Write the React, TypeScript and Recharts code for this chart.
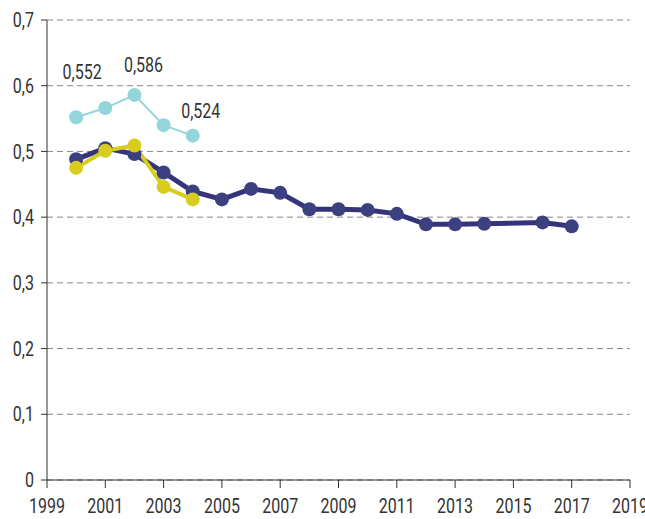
import { CartesianGrid, LabelList, Line, LineChart, XAxis, YAxis } from "recharts";

const YEARS = [2000, 2001, 2002, 2003, 2004, 2005, 2006, 2007, 2008, 2009, 2010, 2011, 2012, 2013, 2014, 2015, 2016, 2017];
const NAVY = [0.488, 0.505, 0.496, 0.468, 0.439, 0.427, 0.443, 0.437, 0.412, 0.412, 0.411, 0.405, 0.389, 0.389, 0.390, null, 0.392, 0.386];
const YELLOW = [0.475, 0.501, 0.509, 0.446, 0.427];
const TEAL = [0.552, 0.566, 0.586, 0.540, 0.524];
const TEAL_LABELS = ["0,552", "", "0,586", "", "0,524"];
const X_TICKS = [1999, 2001, 2003, 2005, 2007, 2009, 2011, 2013, 2015, 2017, 2019];
const Y_TICKS = [0, 0.1, 0.2, 0.3, 0.4, 0.5, 0.6, 0.7];

const data = YEARS.map((year, i) => ({
  year,
  navy: NAVY[i],
  yellow: i < YELLOW.length ? YELLOW[i] : undefined,
  teal: i < TEAL.length ? TEAL[i] : undefined,
  tealLabel: TEAL_LABELS[i] ?? "",
}));

// label nudges for the light series, as in the source
const LABEL_SHIFT = [
  { dx: 6, dy: -38 },
  { dx: 0, dy: 0 },
  { dx: 9, dy: -23 },
  { dx: 0, dy: 0 },
  { dx: 8, dy: -18 },
];

const FONT = "Roboto, 'Liberation Sans', sans-serif";
const NARROW = 0.8; // squeeze to mimic the condensed face of the source
const TXT = "#333";
const NAVY_C = "#35347a";
const YELLOW_C = "#d8cd1e";
const TEAL_C = "#92d5da";

const fmt = (v: number) => (v === 0 ? "0" : v.toFixed(1).replace(".", ","));

function NarrowText({ x, y, anchor, dy, children }: any) {
  return (
    <g transform={`translate(${x},${y})`}>
      <text transform={`scale(${NARROW},1)`} textAnchor={anchor} dy={dy} fontSize={20} fill={TXT} fontFamily={FONT}>
        {children}
      </text>
    </g>
  );
}

function XTick(props: any) {
  const { x, y, payload } = props;
  return <NarrowText x={x} y={y} anchor="middle" dy="0.71em">{payload.value}</NarrowText>;
}

function YTick(props: any) {
  const { x, y, payload } = props;
  return <NarrowText x={x} y={y} anchor="end" dy="0.36em">{fmt(payload.value)}</NarrowText>;
}

function TealLabel(props: any) {
  const { x, y, value, index } = props;
  if (!value) return null;
  const s = LABEL_SHIFT[index] || { dx: 0, dy: 0 };
  return <NarrowText x={x + s.dx} y={y + s.dy} anchor="middle">{value}</NarrowText>;
}

export default function App() {
  return (
    <div style={{ position: "absolute", left: 0, top: 0, background: "#fff" }}>
      <LineChart width={645} height={519} data={data} margin={{ top: 20, right: 15, left: 5, bottom: 9 }}>
        <CartesianGrid stroke="#888" strokeDasharray="6 4" vertical={false} />
        <XAxis
          dataKey="year"
          type="number"
          domain={[1999, 2019]}
          ticks={X_TICKS}
          interval={0}
          height={30}
          stroke="#333"
          tickSize={8}
          tickMargin={11}
          tick={<XTick />}
        />
        <YAxis
          domain={[0, 0.7]}
          ticks={Y_TICKS}
          width={42}
          stroke="#333"
          tickSize={6}
          tickMargin={7}
          tick={<YTick />}
        />
        <Line
          dataKey="teal"
          stroke={TEAL_C}
          strokeWidth={2}
          dot={{ r: 7, fill: TEAL_C, stroke: TEAL_C, strokeWidth: 0 }}
          isAnimationActive={false}
        >
          <LabelList dataKey="tealLabel" content={<TealLabel />} />
        </Line>
        <Line
          dataKey="navy"
          stroke={NAVY_C}
          strokeWidth={5}
          connectNulls
          dot={{ r: 7, fill: "#3d4080", stroke: "#3d4080", strokeWidth: 0 }}
          isAnimationActive={false}
        />
        <Line
          dataKey="yellow"
          stroke={YELLOW_C}
          strokeWidth={4}
          dot={{ r: 7, fill: YELLOW_C, stroke: YELLOW_C, strokeWidth: 0 }}
          isAnimationActive={false}
        />
      </LineChart>
    </div>
  );
}
